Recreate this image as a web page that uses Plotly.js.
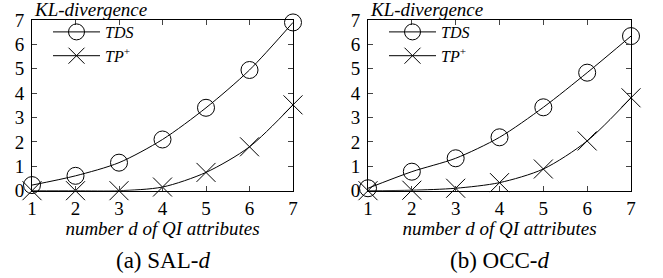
<!DOCTYPE html>
<html><head><meta charset="utf-8">
<script src="https://cdn.plot.ly/plotly-3.0.1.min.js"></script>
<style>html,body{margin:0;padding:0;background:#fff}#chart{width:663px;height:278px}</style>
</head><body><div id="chart"></div>
<script>
const dValues = [1, 2, 3, 4, 5, 6, 7];
const salTDS = [0.23, 0.61, 1.15, 2.1, 3.4, 4.95, 6.9];
const salTP  = [0.0, 0.0, 0.0, 0.15, 0.75, 1.8, 3.52];
const occTDS = [0.1, 0.78, 1.33, 2.19, 3.42, 4.84, 6.34];
const occTP  = [0.0, 0.02, 0.1, 0.33, 0.89, 2.04, 3.81];
const seriesNames = ['<i>TDS</i>', '<i>TP</i><sup>+</sup>'];
const captions = ['(a) SAL-<i>d</i>', '(b) OCC-<i>d</i>'];
const xTitle = '<i>number d of QI attributes</i>';
const yTitle = '<i>KL-divergence</i>';

const FONT = 'Liberation Serif';
const W = 663, H = 278;
const px = (v) => v / W, py = (v) => 1 - v / H;

function mk(x, y, name, sym, sz, xa, ya, leg) {
  return {x, y, name, xaxis: xa, yaxis: ya, legend: leg, mode: 'lines+markers',
    line: {color: '#000', width: 1, shape: 'spline', smoothing: 0.8},
    marker: {symbol: sym, size: sz, color: '#000', line: {color: '#000', width: 1}},
    cliponaxis: false};
}
const traces = [
  mk(dValues, salTDS, seriesNames[0], 'circle-open', 17, 'x', 'y', 'legend'),
  mk(dValues, salTP, seriesNames[1], 'x-thin-open', 19, 'x', 'y', 'legend'),
  mk(dValues, occTDS, seriesNames[0], 'circle-open', 17, 'x2', 'y2', 'legend2'),
  mk(dValues, occTP, seriesNames[1], 'x-thin-open', 19, 'x2', 'y2', 'legend2'),
];
function xax(d, anchor) {
  return {domain: d, anchor, range: [1, 7], tickvals: dValues, ticks: 'inside', ticklen: 5,
    mirror: 'allticks', showline: true, linecolor: '#000', linewidth: 1, showgrid: false,
    zeroline: false, ticklabelstandoff: 0, tickfont: {family: FONT, size: 19, color: '#000'},
    title: {text: xTitle, font: {family: FONT, size: 19, color: '#000'}, standoff: 0}};
}
function yax(d, anchor) {
  return {domain: d, anchor, range: [0, 7], dtick: 1, ticks: 'inside', ticklen: 5,
    mirror: 'allticks', showline: true, linecolor: '#000', linewidth: 1, showgrid: false,
    zeroline: false, ticklabelstandoff: 3, tickfont: {family: FONT, size: 19, color: '#000'}};
}
const yd = [py(190.7), py(20)];
const legendBase = (x) => ({x, y: py(15), xanchor: 'left', yanchor: 'top', bgcolor: 'rgba(0,0,0,0)',
  font: {family: FONT, size: 16, color: '#000'}, itemwidth: 47, tracegroupgap: 0});
const layout = {
  width: W, height: H, margin: {l: 0, r: 0, t: 0, b: 0}, paper_bgcolor: '#fff', plot_bgcolor: '#fff',
  showlegend: true,
  xaxis: xax([px(32), px(293)], 'y'), yaxis: yax(yd, 'x'),
  xaxis2: xax([px(368), px(631)], 'y2'), yaxis2: yax(yd, 'x2'),
  legend: legendBase(px(48)), legend2: legendBase(px(384)),
  annotations: [
    {text: yTitle, xref: 'paper', yref: 'paper', x: px(32), y: py(9), xanchor: 'left', yanchor: 'middle', showarrow: false, font: {family: FONT, size: 19, color: '#000'}},
    {text: yTitle, xref: 'paper', yref: 'paper', x: px(368), y: py(9), xanchor: 'left', yanchor: 'middle', showarrow: false, font: {family: FONT, size: 19, color: '#000'}},
    {text: captions[0], xref: 'paper', yref: 'paper', x: px(163), y: py(260), xanchor: 'center', yanchor: 'middle', showarrow: false, font: {family: FONT, size: 23, color: '#000'}},
    {text: captions[1], xref: 'paper', yref: 'paper', x: px(500), y: py(260), xanchor: 'center', yanchor: 'middle', showarrow: false, font: {family: FONT, size: 23, color: '#000'}},
  ]
};
Plotly.newPlot('chart', traces, layout, {staticPlot: true});
</script></body></html>
